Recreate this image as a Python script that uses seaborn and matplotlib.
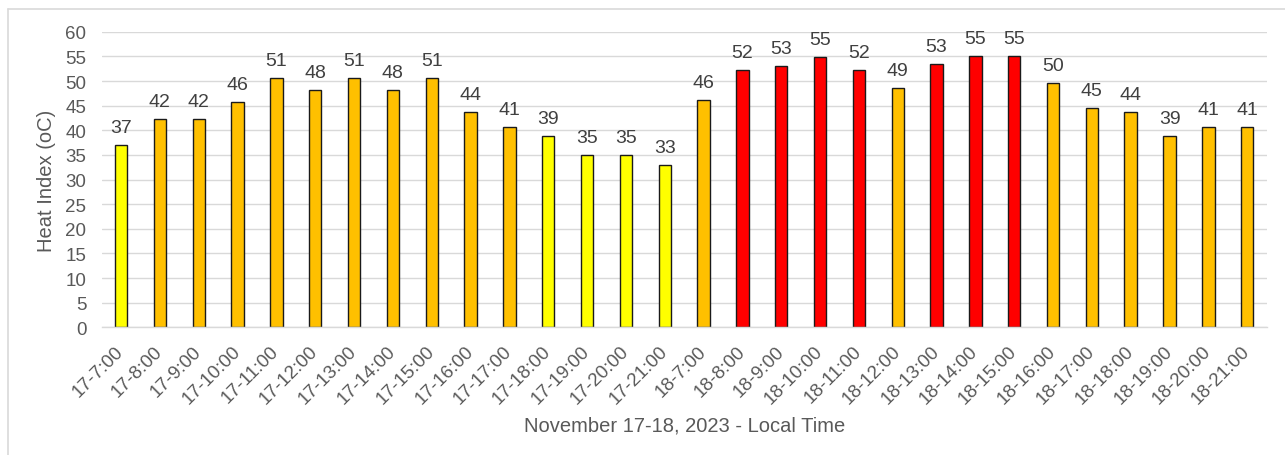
import matplotlib
matplotlib.use("Agg")
import matplotlib.pyplot as plt
from matplotlib.lines import Line2D
import seaborn as sns
import pandas as pd

# Hourly heat index readings, 17-18 November 2023
time_labels = [
    "17-7:00", "17-8:00", "17-9:00", "17-10:00", "17-11:00", "17-12:00",
    "17-13:00", "17-14:00", "17-15:00", "17-16:00", "17-17:00", "17-18:00",
    "17-19:00", "17-20:00", "17-21:00",
    "18-7:00", "18-8:00", "18-9:00", "18-10:00", "18-11:00", "18-12:00",
    "18-13:00", "18-14:00", "18-15:00", "18-16:00", "18-17:00", "18-18:00",
    "18-19:00", "18-20:00", "18-21:00",
]
heat_index = [
    37.0, 42.2, 42.3, 45.8, 50.6, 48.2, 50.6, 48.2, 50.6, 43.8, 40.6, 38.9,
    35.0, 35.0, 32.9,
    46.2, 52.3, 53.0, 54.9, 52.3, 48.6, 53.4, 55.1, 55.1, 49.7, 44.6, 43.8,
    38.9, 40.6, 40.6,
]
# Warning level of each reading: C = caution, D = danger, E = extreme danger
levels = list("CDDDDDDDDDDCCCC" "DEEEEDEEEDDDDDD")
level_colors = {"C": "#FFFF00", "D": "#FFC000", "E": "#FF0000"}

df = pd.DataFrame({"time": time_labels, "value": heat_index})
bar_colors = [level_colors[l] for l in levels]

sns.set_theme(style="white")
plt.rcParams["font.family"] = ["Liberation Sans", "DejaVu Sans"]

fig = plt.figure(figsize=(12.85, 4.56), dpi=100)
ax = fig.add_axes([0.0791, 0.280, 0.9066, 0.648])

sns.barplot(
    data=df, x="time", y="value", hue="time", palette=bar_colors,
    saturation=1, width=0.32, edgecolor="#1a1a1a", linewidth=1.0,
    legend=False, order=time_labels, hue_order=time_labels, ax=ax,
)

for cont in ax.containers:
    ax.bar_label(cont, fmt="{:.0f}", padding=6.5, fontsize=14, color="#404040")

ax.set_ylim(0, 60)
ax.set_yticks(range(0, 61, 5))
ax.set_xlim(-0.5, len(time_labels) - 0.5)
ax.set_axisbelow(True)
ax.yaxis.grid(True, color="#D9D9D9", linewidth=1.0)
ax.xaxis.grid(False)
for side in ["top", "right", "left"]:
    ax.spines[side].set_visible(False)
ax.spines["bottom"].set_color("#D9D9D9")
ax.spines["bottom"].set_linewidth(1.0)

ax.tick_params(axis="y", length=0, pad=11, labelsize=13.5, labelcolor="#595959")
ax.tick_params(axis="x", length=0, pad=15, labelsize=13.5, labelcolor="#595959")
ax.set_xticks(range(len(time_labels)))
ax.set_xticklabels(time_labels, rotation=45, ha="right", va="center",
                   rotation_mode="anchor")

ax.set_ylabel("Heat Index (oC)", fontsize=14.5, color="#595959", va="center")
ax.yaxis.set_label_coords(-0.0476, 0.5)
ax.set_xlabel("November 17-18, 2023 - Local Time", fontsize=14.5,
              color="#595959", va="center")
ax.xaxis.set_label_coords(0.5, -0.33)

# Light frame around the chart area
fw, fh = 1285.0, 456.0
fig.add_artist(Line2D([8 / fw, 8 / fw], [0, 1 - 10 / fh], transform=fig.transFigure,
                      color="#D9D9D9", linewidth=1.2))
fig.add_artist(Line2D([8 / fw, 1], [1 - 10 / fh, 1 - 10 / fh], transform=fig.transFigure,
                      color="#D9D9D9", linewidth=1.2))

fig.savefig("out.png", dpi=100, facecolor="white")
